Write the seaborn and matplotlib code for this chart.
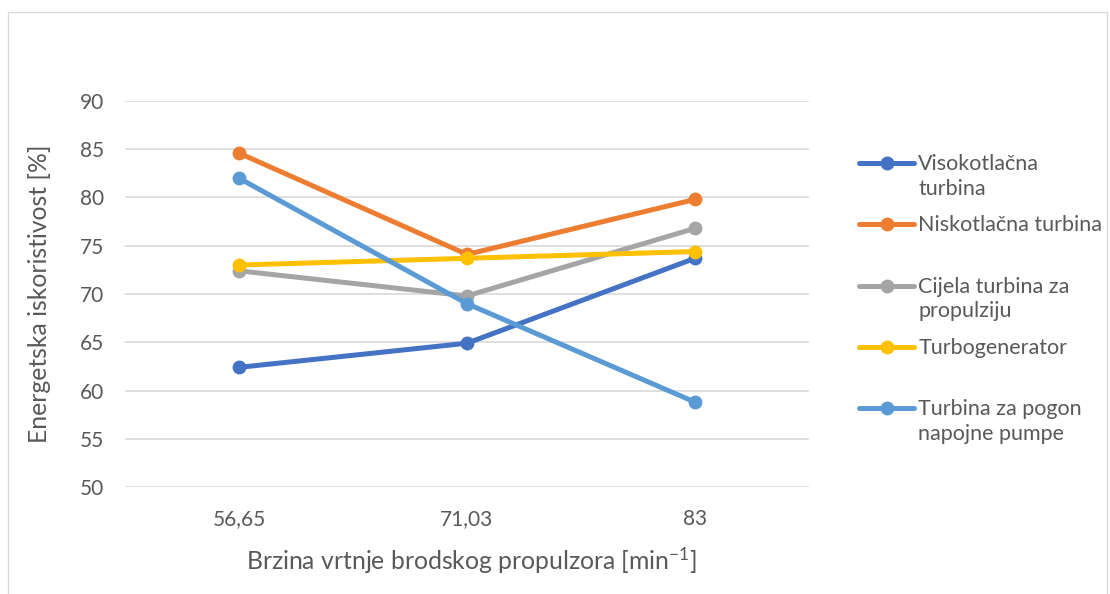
import matplotlib
matplotlib.use("Agg")
import matplotlib.pyplot as plt
import seaborn as sns
import pandas as pd
import numpy as np
from matplotlib.patches import Rectangle

# Rotational speed of the ship propeller (category labels)
speeds = ["56,65", "71,03", "83"]

# Energy efficiency [%] of each turbine
visokotlacna = [62.4, 64.9, 73.7]
niskotlacna = [84.6, 74.1, 79.8]
cijela = [72.4, 69.8, 76.8]
turbogenerator = [73.0, 73.7, 74.4]
pogon_pumpe = [82.0, 69.0, 58.8]

series_names = [
    "Visokotlačna\nturbina",
    "Niskotlačna turbina",
    "Cijela turbina za\npropulziju",
    "Turbogenerator",
    "Turbina za pogon\nnapojne pumpe",
]
series_values = [visokotlacna, niskotlacna, cijela, turbogenerator, pogon_pumpe]
colors = ["#4472C4", "#ED7D31", "#A5A5A5", "#FFC000", "#5B9BD5"]

yticks = [50, 55, 60, 65, 70, 75, 80, 85, 90]

rows = []
for name, vals in zip(series_names, series_values):
    for s, v in zip(speeds, vals):
        rows.append({"speed": s, "eff": v, "series": name})
df = pd.DataFrame(rows)

sns.set_theme(style="white")
plt.rcParams["font.family"] = ["Lato", "DejaVu Sans"]
plt.rcParams["mathtext.default"] = "regular"

text_color = "#595959"
grid_color = "#D9D9D9"

fig = plt.figure(figsize=(11.10, 5.94), dpi=100)
ax = fig.add_axes([0.1126, 0.1801, 0.6162, 0.6499])

sns.lineplot(
    data=df, x="speed", y="eff", hue="series", hue_order=series_names,
    palette=colors, marker="o", markersize=10, markeredgewidth=0,
    linewidth=3.6, sort=False, ax=ax, legend=True,
)

ax.set_xlim(-0.5, 2.5)
ax.set_ylim(50, 90)
ax.set_yticks(yticks)
ax.yaxis.grid(True, color=grid_color, linewidth=1.2)
ax.set_axisbelow(True)
for sp in ax.spines.values():
    sp.set_visible(False)

ax.tick_params(axis="y", length=0, pad=15, labelsize=15, labelcolor=text_color)
ax.tick_params(axis="x", length=0, pad=16, labelsize=15, labelcolor=text_color)

ax.set_ylabel("Energetska iskoristivost [%]", fontsize=17.8, color=text_color, labelpad=21)
ax.set_xlabel("Brzina vrtnje brodskog propulzora [min$^{-1}$]", fontsize=17.8,
              color=text_color, labelpad=12)
ax.xaxis.label.set_x(0.507)

# Legend: every entry gets a two-line slot, marker aligned with the first line
leg_fs = 15.5
line_sp = 1.3
handles, labels = ax.get_legend_handles_labels()
labels = [lab if "\n" in lab else lab + "\n " for lab in labels]
leg = ax.legend(
    handles, labels, loc="upper left", bbox_to_anchor=(1.045, 0.913),
    frameon=False, fontsize=leg_fs, labelcolor=text_color,
    handlelength=2.55, handletextpad=0.2, labelspacing=0.77,
)
for t in leg.get_texts():
    t.set_linespacing(line_sp)
shift = line_sp * leg_fs / 2
for h in leg.legend_handles:
    h.set_ydata(np.asarray(h.get_ydata()) + shift)

# Light frame around the chart area
fig.patches.append(Rectangle((0.007, -0.05), 0.99, 1.03, transform=fig.transFigure,
                             fill=False, edgecolor="#D9D9D9", linewidth=1))

fig.savefig("out.png", dpi=100, facecolor="white")
